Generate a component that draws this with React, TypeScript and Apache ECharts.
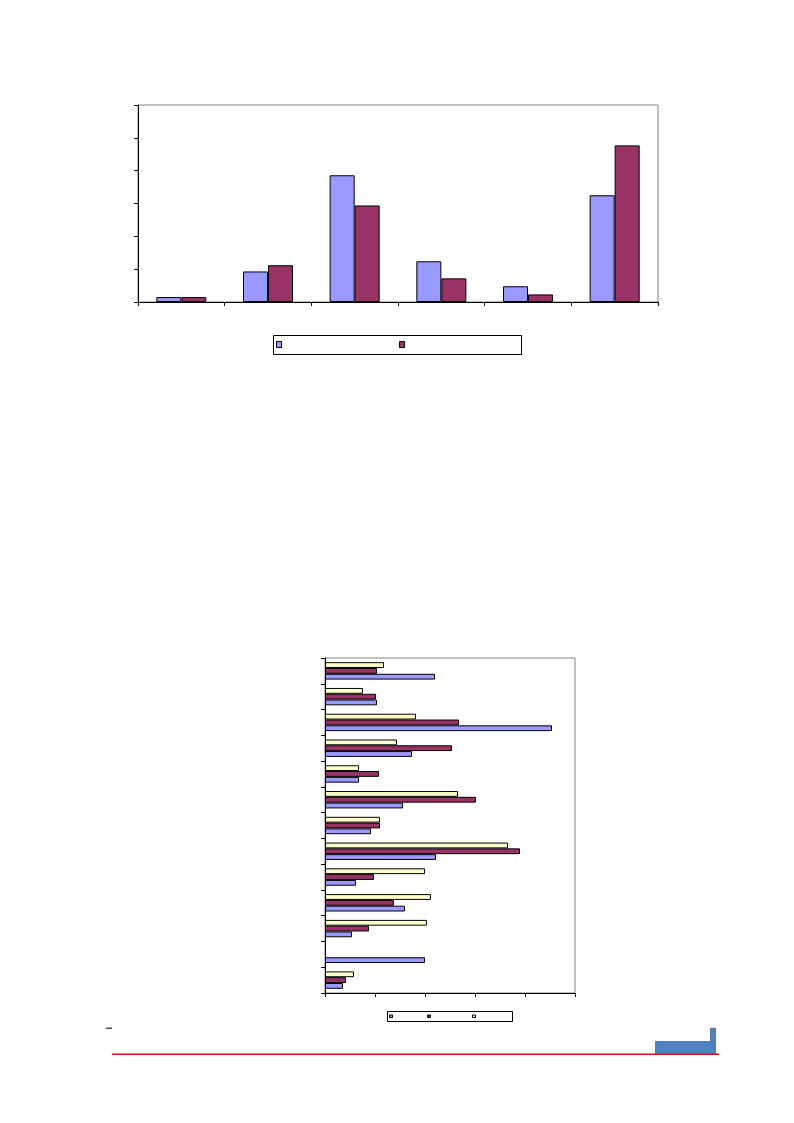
import React, { useEffect, useRef } from "react";
import * as echarts from "echarts";

// ---- Chart 1 (vertical columns) ----
const topCategories = ["C1", "C2", "C3", "C4", "C5", "C6"];
const topSeriesBlue = [1.5, 9.3, 38.6, 12.4, 4.8, 32.5];
const topSeriesRed = [1.5, 11.2, 29.4, 7.2, 2.3, 47.7];
const topAxisMax = 60;
const topAxisInterval = 10;

// ---- Chart 2 (horizontal bars), categories listed top to bottom ----
const barCategories = ["R1", "R2", "R3", "R4", "R5", "R6", "R7", "R8", "R9", "R10", "R11", "R12", "R13"];
const barSeriesBlue = [22, 10.4, 45.4, 17.4, 6.8, 15.6, 9.2, 22.2, 6.2, 16, 5.4, 20, 3.6];
const barSeriesRed = [10.4, 10.2, 26.8, 25.4, 10.8, 30.2, 11, 39, 9.8, 13.8, 8.8, null, 4.2];
const barSeriesYellow = [11.8, 7.6, 18.2, 14.4, 6.8, 26.6, 11, 36.6, 20, 21.2, 20.4, null, 5.8];
const barAxisMax = 50;
const barAxisInterval = 10;

const BLUE = "#9999FF";
const RED = "#993366";
const YELLOW = "#FFFFCC";

export default function App() {
  const ref = useRef<HTMLDivElement>(null);

  useEffect(() => {
    if (!ref.current) return;
    const chart = echarts.init(ref.current, null, { renderer: "svg" });

    const axisLine = { show: true, lineStyle: { color: "#000", width: 1 } };
    const axisTick = { show: true, length: 4, inside: false, lineStyle: { color: "#000", width: 1 } };

    const option: any = {
      animation: false,
      backgroundColor: "#ffffff",
      grid: [
        { left: 138, top: 105, width: 520, height: 197, show: true, borderColor: "#808080", borderWidth: 1, backgroundColor: "transparent" },
        { left: 325, top: 658, width: 250, height: 335, show: true, borderColor: "#808080", borderWidth: 1, backgroundColor: "transparent" },
      ],
      xAxis: [
        {
          type: "category",
          gridIndex: 0,
          data: topCategories,
          axisLine,
          axisTick: { ...axisTick, alignWithLabel: false },
          axisLabel: { show: false },
          splitLine: { show: false },
        },
        {
          type: "value",
          gridIndex: 1,
          min: 0,
          max: barAxisMax,
          interval: barAxisInterval,
          axisLine,
          axisTick,
          axisLabel: { show: false },
          splitLine: { show: false },
        },
      ],
      yAxis: [
        {
          type: "value",
          gridIndex: 0,
          min: 0,
          max: topAxisMax,
          interval: topAxisInterval,
          axisLine,
          axisTick,
          axisLabel: { show: false },
          splitLine: { show: false },
        },
        {
          type: "category",
          gridIndex: 1,
          inverse: true,
          data: barCategories,
          axisLine,
          axisTick: { ...axisTick, alignWithLabel: false },
          axisLabel: { show: false },
          splitLine: { show: false },
        },
      ],
      series: [
        {
          name: "Blue",
          type: "bar",
          xAxisIndex: 0,
          yAxisIndex: 0,
          data: topSeriesBlue,
          barWidth: 25,
          barGap: "0%",
          itemStyle: { color: BLUE, borderColor: "#000", borderWidth: 1 },
        },
        {
          name: "Red",
          type: "bar",
          xAxisIndex: 0,
          yAxisIndex: 0,
          data: topSeriesRed,
          barWidth: 25,
          barGap: "0%",
          itemStyle: { color: RED, borderColor: "#000", borderWidth: 1 },
        },
        {
          name: "Yellow2",
          type: "bar",
          xAxisIndex: 1,
          yAxisIndex: 1,
          data: barSeriesYellow,
          barWidth: 5.8,
          barGap: "0%",
          itemStyle: { color: YELLOW, borderColor: "#000", borderWidth: 1 },
        },
        {
          name: "Red2",
          type: "bar",
          xAxisIndex: 1,
          yAxisIndex: 1,
          data: barSeriesRed,
          barWidth: 5.8,
          barGap: "0%",
          itemStyle: { color: RED, borderColor: "#000", borderWidth: 1 },
        },
        {
          name: "Blue2",
          type: "bar",
          xAxisIndex: 1,
          yAxisIndex: 1,
          data: barSeriesBlue,
          barWidth: 5.8,
          barGap: "0%",
          itemStyle: { color: BLUE, borderColor: "#000", borderWidth: 1 },
        },
      ],
      graphic: [
        // legend box chart 1
        { type: "rect", shape: { x: 273.5, y: 335.5, width: 248, height: 19 }, style: { fill: "#fff", stroke: "#000", lineWidth: 1 } },
        { type: "rect", shape: { x: 276.5, y: 341.5, width: 5, height: 6 }, style: { fill: BLUE, stroke: "#000", lineWidth: 1 } },
        { type: "rect", shape: { x: 399.5, y: 341.5, width: 5, height: 6 }, style: { fill: RED, stroke: "#000", lineWidth: 1 } },
        // legend box chart 2
        { type: "rect", shape: { x: 387.5, y: 1011.5, width: 125, height: 10 }, style: { fill: "#fff", stroke: "#000", lineWidth: 1 } },
        { type: "rect", shape: { x: 389.5, y: 1015, width: 3, height: 2.5 }, style: { fill: BLUE, stroke: "#000", lineWidth: 1 } },
        { type: "rect", shape: { x: 427.5, y: 1015, width: 3, height: 2.5 }, style: { fill: RED, stroke: "#000", lineWidth: 1 } },
        { type: "rect", shape: { x: 472.5, y: 1015, width: 3, height: 2.5 }, style: { fill: YELLOW, stroke: "#000", lineWidth: 1 } },
        // footer
        { type: "line", shape: { x1: 106, y1: 1028.2, x2: 112, y2: 1028.2 }, style: { stroke: "#000", lineWidth: 1 } },
        { type: "rect", shape: { x: 655, y: 1041, width: 56, height: 13 }, style: { fill: "#4F81BD" } },
        { type: "rect", shape: { x: 710, y: 1028, width: 6, height: 26 }, style: { fill: "#4F81BD" } },
        { type: "line", shape: { x1: 710, y1: 1028.3, x2: 716, y2: 1028.3 }, style: { stroke: "#C0504D", lineWidth: 1 } },
        { type: "line", shape: { x1: 112, y1: 1054.2, x2: 719, y2: 1054.2 }, style: { stroke: "#DD1111", lineWidth: 1.5 } },
      ],
    };

    chart.setOption(option);
    return () => chart.dispose();
  }, []);

  return (
    <div
      ref={ref}
      style={{ position: "absolute", left: 0, top: 0, width: 794, height: 1123, background: "#fff" }}
    />
  );
}
